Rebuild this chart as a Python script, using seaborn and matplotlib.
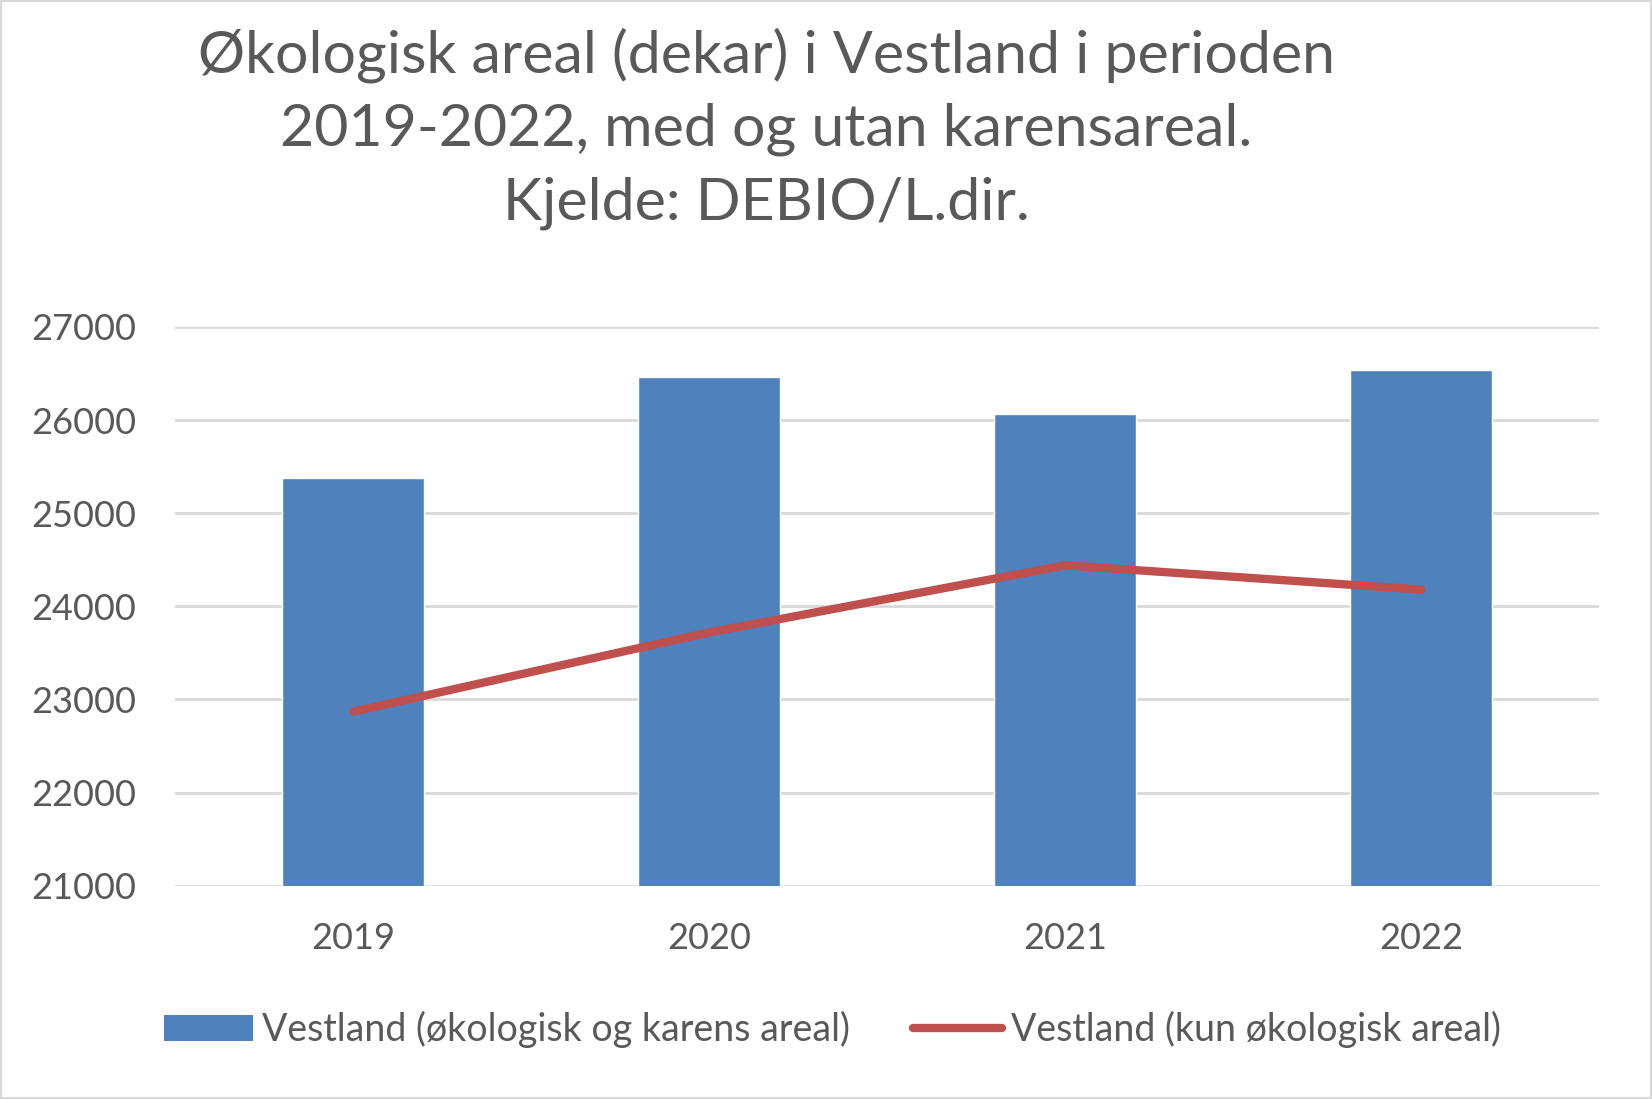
import numpy as np
import pandas as pd
import matplotlib
matplotlib.use("Agg")
import matplotlib.pyplot as plt
import seaborn as sns
from matplotlib.patches import Patch, Rectangle
from matplotlib.lines import Line2D

# Data
years = ["2019", "2020", "2021", "2022"]
total_area = [25380, 26460, 26060, 26540]   # med karensareal
organic_area = [22870, 23720, 24440, 24180]  # kun økologisk

bar_label = "Vestland (økologisk og karens areal)"
line_label = "Vestland (kun økologisk areal)"
title = "Økologisk areal (dekar) i Vestland i perioden\n2019-2022, med og utan karensareal.\nKjelde: DEBIO/L.dir."

bar_color = "#4F81BD"
line_color = "#C0504D"
text_color = "#595959"
grid_color = "#D9D9D9"

df = pd.DataFrame({"year": years, "total": total_area, "organic": organic_area})

sns.set_theme(style="white")
plt.rcParams["font.family"] = ["Lato", "DejaVu Sans"]

fig = plt.figure(figsize=(16.52, 10.99), dpi=100)
ax = fig.add_axes([0.106, 0.194, 0.862, 0.5086])

sns.barplot(data=df, x="year", y="total", color=bar_color, width=0.4,
            saturation=1, ax=ax, zorder=2)
sns.lineplot(x=np.arange(len(years)), y=df["organic"], color=line_color,
             linewidth=6, ax=ax, zorder=3, solid_capstyle="round")

ax.set_xlim(-0.5, len(years) - 0.5)
ax.set_ylim(21000, 27000)
ax.set_yticks(range(21000, 27001, 1000))
ax.yaxis.grid(True, color=grid_color, linewidth=2, zorder=0)
ax.set_axisbelow(True)
for s in ax.spines.values():
    s.set_visible(False)
ax.set_xlabel("")
ax.set_ylabel("")
ax.tick_params(axis="both", length=0, labelsize=26, labelcolor=text_color)
ax.tick_params(axis="x", pad=26)
ax.tick_params(axis="y", pad=28)

fig.text(0.464, 0.883, title, ha="center", va="center", fontsize=42.5,
         color=text_color, linespacing=1.46)

handles = [Patch(facecolor=bar_color, edgecolor="none"),
           Line2D([0], [0], color=line_color, linewidth=6, solid_capstyle="round")]
fig.legend(handles, [bar_label, line_label], loc="center", ncol=2,
           bbox_to_anchor=(0.504, 0.063), frameon=False, fontsize=27,
           labelcolor=text_color, handlelength=2.36, handletextpad=0.25,
           columnspacing=1.68)

fig.patches.append(Rectangle((0, 0), 1, 1, transform=fig.transFigure,
                             fill=False, edgecolor=grid_color, linewidth=3))

fig.savefig("out.png", dpi=100)
